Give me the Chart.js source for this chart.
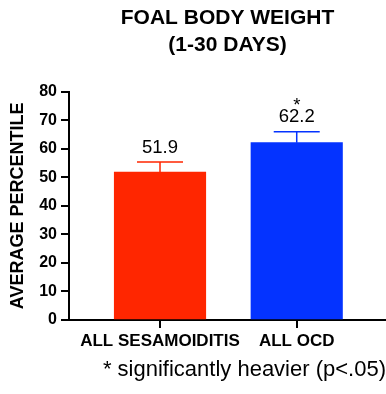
<!DOCTYPE html>
<html>
<head>
<meta charset="utf-8">
<script src="https://cdn.jsdelivr.net/npm/chart.js@4"></script>
<style>
  html, body { margin: 0; padding: 0; background: #fff; }
  #wrap { position: relative; width: 386px; height: 394px; overflow: hidden; }
  #note {
    position: absolute; right: 0; top: 358px;
    font: 22px "Liberation Sans", Arial, sans-serif; line-height: 22px;
    white-space: nowrap; color: #000;
  }
</style>
</head>
<body>
<div id="wrap">
  <canvas id="c" width="386" height="394"></canvas>
  <div id="note">* significantly heavier (p&lt;.05)</div>
</div>
<script>
// Groups, mean percentile and error (SEM) per group
const categories = ['ALL SESAMOIDITIS', 'ALL OCD'];
const percentile = [51.9, 62.2];
const errors = [3.5, 3.8];
const markers = ['', '*'];
const yTickValues = [0, 10, 20, 30, 40, 50, 60, 70, 80];

const barColors = ['#FF2600', '#0433FF'];
const FONT = '"Liberation Sans", Arial, sans-serif';

// Error bars plus the value label (and significance mark) above each bar
const errorBars = {
  id: 'errorBars',
  afterDatasetsDraw(chart) {
    const ctx = chart.ctx;
    const y = chart.scales.y;
    const meta = chart.getDatasetMeta(0);
    meta.data.forEach((bar, i) => {
      const top = y.getPixelForValue(percentile[i] + errors[i]);
      ctx.save();
      ctx.strokeStyle = barColors[i];
      ctx.lineWidth = 1.5;
      ctx.beginPath();
      ctx.moveTo(bar.x, bar.y);
      ctx.lineTo(bar.x, top);
      ctx.moveTo(bar.x - 23, top);
      ctx.lineTo(bar.x + 23, top);
      ctx.stroke();
      ctx.fillStyle = '#000';
      ctx.textAlign = 'center';
      ctx.textBaseline = 'alphabetic';
      ctx.font = '18.5px ' + FONT;
      const base = top - 9.5;
      ctx.fillText(percentile[i].toFixed(1), bar.x, base);
      if (markers[i]) ctx.fillText(markers[i], bar.x, base - 11.2);
      ctx.restore();
    });
  }
};

new Chart(document.getElementById('c'), {
  type: 'bar',
  data: {
    datasets: [{
      data: percentile.map((v, i) => ({ x: i, y: v })),
      backgroundColor: barColors,
      borderWidth: 0,
      barThickness: 91.5
    }]
  },
  options: {
    responsive: false,
    animation: false,
    devicePixelRatio: 1,
    events: [],
    layout: { padding: 0 },
    plugins: {
      legend: { display: false },
      tooltip: { enabled: false },
      title: {
        display: true,
        text: ['FOAL BODY WEIGHT', '(1-30 DAYS)'],
        color: '#000',
        fullSize: false,
        font: { family: FONT, size: 21, weight: 'bold', lineHeight: 1.29 },
        padding: { top: 5, bottom: 32.7 }
      }
    },
    scales: {
      x: {
        type: 'linear',
        offset: false,
        min: -0.6657,
        max: 1.653,
        afterBuildTicks: s => { s.ticks = categories.map((_, i) => ({ value: i })); },
        afterFit: s => { s.height = 74; },
        ticks: {
          color: '#000',
          padding: 3,
          maxRotation: 0,
          autoSkip: false,
          font: { family: FONT, size: 17, weight: 'bold' },
          callback: v => categories[v] ?? ''
        },
        grid: { offset: false, drawOnChartArea: false, color: '#000', lineWidth: 2, tickLength: 8 },
        border: { color: '#000', width: 2 }
      },
      y: {
        min: 0,
        max: 80,
        afterBuildTicks: s => { s.ticks = yTickValues.map(v => ({ value: v })); },
        afterFit: s => { s.width = 69; },
        ticks: {
          color: '#000',
          padding: 4,
          font: { family: FONT, size: 16, weight: 'bold' }
        },
        grid: { drawOnChartArea: false, color: '#000', lineWidth: 2, tickLength: 8 },
        border: { color: '#000', width: 2 },
        title: {
          display: true,
          text: 'AVERAGE PERCENTILE',
          color: '#000',
          font: { family: FONT, size: 18, weight: 'bold' },
          padding: { top: 7.5, bottom: 0 }
        }
      }
    }
  },
  plugins: [errorBars]
});
</script>
</body>
</html>
